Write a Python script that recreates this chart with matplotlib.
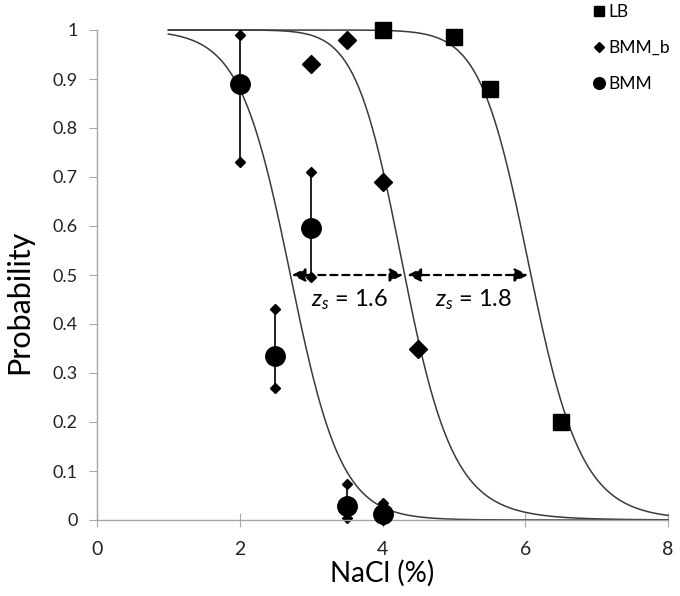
import numpy as np
import matplotlib
matplotlib.use('Agg')
from matplotlib import pyplot as plt

plt.rcParams['font.family'] = ['Lato', 'DejaVu Sans']
plt.rcParams['mathtext.fontset'] = 'custom'
plt.rcParams['mathtext.it'] = 'Lato:italic'
plt.rcParams['mathtext.rm'] = 'Lato'

# measured points
lb_x = [4, 5, 5.5, 6.5]
lb_y = [1.0, 0.985, 0.88, 0.2]

bmmb_x = [3, 3.5, 4, 4.5]
bmmb_y = [0.93, 0.98, 0.69, 0.35]

bmm_x = [2, 2.5, 3, 3.5, 4]
bmm_y = [0.89, 0.335, 0.595, 0.028, 0.012]
bmm_lo = [0.73, 0.27, 0.495, 0.005, 0.0]
bmm_hi = [0.99, 0.43, 0.71, 0.073, 0.035]

# fitted curves: midpoint and steepness
bmm_mid, bmm_k = 2.71, 2.8      # logistic in x
bmmb_mid, bmmb_n = 4.31, 12.5   # log-logistic
lb_mid, lb_n = 6.08, 17.0       # log-logistic

shifts = ['1.6', '1.8']

xs = np.linspace(1, 8, 300)
curve_bmm = 1 / (1 + np.exp(bmm_k * (xs - bmm_mid)))
curve_bmmb = 1 / (1 + (xs / bmmb_mid) ** bmmb_n)
curve_lb = 1 / (1 + (xs / lb_mid) ** lb_n)

fig = plt.figure(figsize=(6.8, 5.96), dpi=100)
ax = fig.add_axes([97 / 680, 1 - 520 / 596, 571 / 680, 490 / 596])

line_c = '#3a3a3a'
ax.plot(xs, curve_bmm, c=line_c, lw=1.1, clip_on=False)
ax.plot(xs, curve_bmmb, c=line_c, lw=1.1, clip_on=False)
ax.plot(xs, curve_lb, c=line_c, lw=1.1, clip_on=False)

# error bars of BMM with small diamond caps
for x, lo, hi in zip(bmm_x, bmm_lo, bmm_hi):
    ax.plot([x, x], [lo, hi], c='#202020', lw=1.4, clip_on=False)
    ax.plot([x, x], [lo, hi], ls='none', marker='D', ms=5, c='black', clip_on=False)

ax.plot(lb_x, lb_y, ls='none', marker='s', ms=12, c='black', label='LB', clip_on=False, zorder=5)
ax.plot(bmmb_x, bmmb_y, ls='none', marker='D', ms=9, c='black', label='BMM_b', clip_on=False, zorder=5)
ax.plot(bmm_x, bmm_y, ls='none', marker='o', ms=14, c='black', label='BMM', clip_on=False, zorder=5)

# shift arrows at P = 0.5
arrow = dict(arrowstyle='<|-|>', color='black', lw=1.6, ls=(0, (3.2, 2.2)),
             mutation_scale=20, shrinkA=0, shrinkB=0)
ax.annotate('', xy=(bmmb_mid - 0.02, 0.5), xytext=(bmm_mid + 0.02, 0.5), arrowprops=arrow)
ax.annotate('', xy=(lb_mid - 0.04, 0.5), xytext=(bmmb_mid + 0.04, 0.5), arrowprops=arrow)
ax.text(3.54, 0.449, r'$z_s$ = ' + shifts[0], ha='center', va='center', fontsize=17)
ax.text(5.28, 0.449, r'$z_s$ = ' + shifts[1], ha='center', va='center', fontsize=17)

ax.set_xlim(0, 8)
ax.set_ylim(0, 1)
ax.set_xticks([0, 2, 4, 6, 8])
ax.set_yticks(np.arange(0, 1.01, 0.1))
ax.set_yticklabels(['0', '0.1', '0.2', '0.3', '0.4', '0.5', '0.6', '0.7', '0.8', '0.9', '1'])

for s in ['top', 'right']:
    ax.spines[s].set_visible(False)
for s in ['left', 'bottom']:
    ax.spines[s].set_color('#a6a6a6')
    ax.spines[s].set_linewidth(1.0)
ax.tick_params(axis='y', direction='out', length=6, color='#a6a6a6', labelsize=13, pad=8, labelcolor='#222222')
ax.tick_params(axis='x', direction='inout', length=10, color='#a6a6a6', labelsize=14, pad=10, labelcolor='#222222')

ax.set_xlabel('NaCl (%)', fontsize=20)
ax.xaxis.set_label_coords(0.50, -0.082)
ax.set_ylabel('Probability', fontsize=22)
ax.yaxis.set_label_coords(-0.112, 0.445)

ax.legend(loc='upper left', bbox_to_anchor=(588 / 680, 1.005), bbox_transform=fig.transFigure,
          frameon=False, fontsize=12.5, markerscale=0.6, handlelength=0.5, handletextpad=0.3,
          labelspacing=1.15, borderaxespad=0)

plt.savefig('out.png', dpi=100)
